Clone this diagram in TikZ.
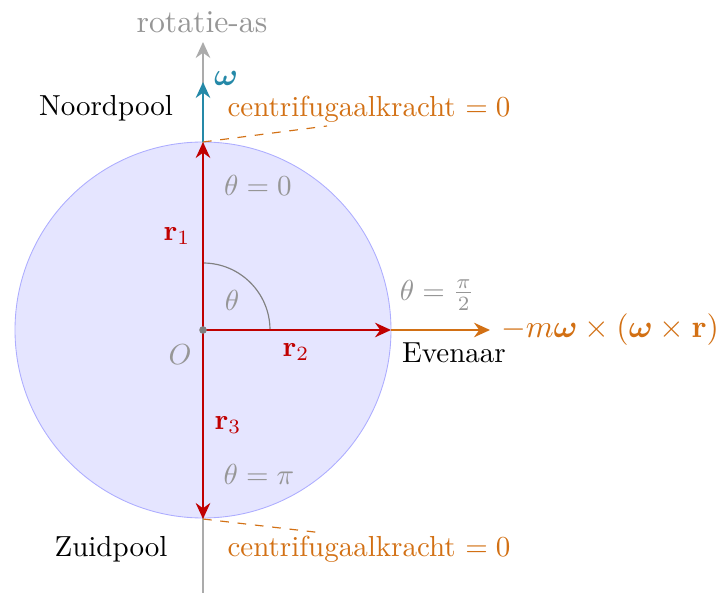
\documentclass[tikz,border=0pt]{standalone}
\usepackage{amsmath,bm}
\usetikzlibrary{arrows.meta}
\definecolor{vred}{RGB}{192,0,0}
\definecolor{vteal}{RGB}{37,137,168}
\definecolor{vorange}{RGB}{210,112,20}
\definecolor{vgray}{RGB}{150,150,150}
\begin{document}
\begin{tikzpicture}[x=0.345pt,y=-0.345pt,
  vec/.style={line width=0.8pt,-{Stealth[length=5.5pt,width=5pt,inset=1.8pt]}},
  lbl/.style={inner sep=0pt},
  big/.style={font=\fontsize{10.95}{13}\selectfont},
  graylbl/.style={inner sep=0pt,text=vgray}]
\useasboundingbox (0,0) rectangle (716,593);
% sphere
\node[circle,draw=blue!32,fill=blue!10,line width=0.3pt,minimum size=376*0.345pt,inner sep=0pt] (S) at (203,330) {};
\coordinate (O) at (203,330);
\coordinate (N) at (203,142);
\coordinate (Z) at (203,519);
\coordinate (E) at (391,330);
\coordinate (bot) at (203,593);
\coordinate (top) at (203,42);
\coordinate (wtip) at (203,82);
\coordinate (ftip) at (490,330);
% rotation axis
\draw[vec,vgray!80,line width=0.7pt] (bot) -- (top);
\node[graylbl,big] (axl) at (202,22) {rotatie-as};
% omega
\draw[vec,vteal] (N) -- (wtip);
\node[lbl,text=vteal,big] (wl) at (226,78) {$\bm{\omega}$};
% angle arc
\draw[gray,line width=0.4pt] (203,263) arc[start angle=-90,end angle=0,radius=67];
\node[graylbl] (th) at (232,300) {$\theta$};
% radius vectors
\draw[vec,vred] (O) -- (N);
\draw[vec,vred] (O) -- (E);
\draw[vec,vred] (O) -- (Z);
\draw[vec,vorange] (E) -- (ftip);
\fill[gray] (O) circle[radius=3.8];
\node[graylbl] (Ol) at (180,355) {$O$};
\node[lbl,text=vred] (r1) at (177,236) {$\mathbf{r}_1$};
\node[lbl,text=vred] (r2) at (296,352) {$\mathbf{r}_2$};
\node[lbl,text=vred] (r3) at (228,425) {$\mathbf{r}_3$};
\node[graylbl] (t0) at (258,185) {$\theta = 0$};
\node[graylbl] (t2) at (437,295) {$\theta = \frac{\pi}{2}$};
\node[graylbl] (tp) at (259,474) {$\theta = \pi$};
\node[lbl,text=vorange,big] (fl) at (610,330) {$-m\bm{\omega}\times(\bm{\omega}\times\mathbf{r})$};
\node[lbl] (np) at (106,108) {Noordpool};
\node[lbl] (ev) at (454,353) {Evenaar};
\node[lbl] (zp) at (111,549) {Zuidpool};
\node[lbl,text=vorange] (c1) at (369,109) {centrifugaalkracht $= 0$};
\node[lbl,text=vorange] (c2) at (369,549) {centrifugaalkracht $= 0$};
\coordinate (c1e) at (327,126);
\coordinate (c2e) at (323,533);
\draw[vorange,dashed,line width=0.4pt] (N) -- (c1e);
\draw[vorange,dashed,line width=0.4pt] (Z) -- (c2e);
\end{tikzpicture}
\end{document}
